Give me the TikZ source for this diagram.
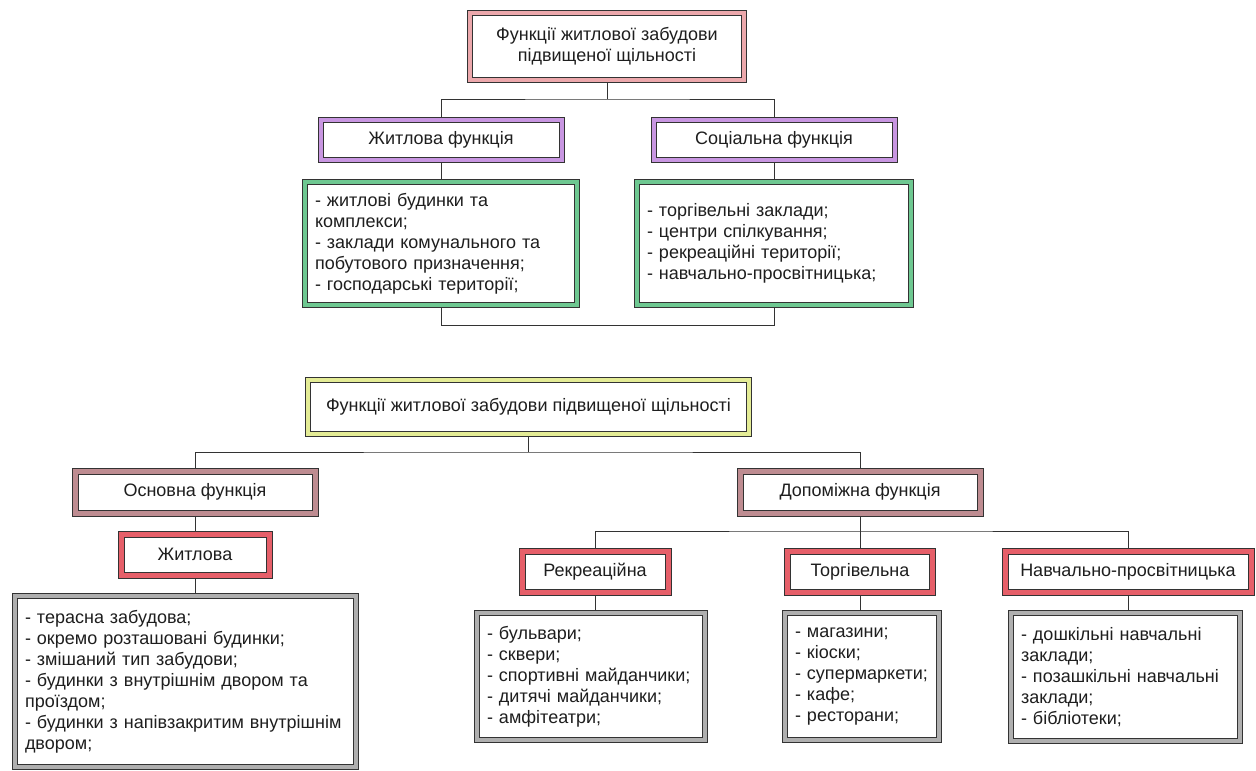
\documentclass[tikz,border=0pt]{standalone}
\usepackage{fontspec}
\setmainfont{Liberation Sans}
\usetikzlibrary{backgrounds}
\definecolor{ln}{HTML}{333333}
\definecolor{txt}{HTML}{1E1E1E}
\definecolor{pinkb}{RGB}{236,168,172}
\definecolor{purpb}{RGB}{200,150,225}
\definecolor{greenb}{RGB}{110,200,145}
\definecolor{yellb}{RGB}{228,236,150}
\definecolor{roseb}{RGB}{190,140,145}
\definecolor{redb}{RGB}{230,95,105}
\definecolor{grayb}{RGB}{175,175,175}
\newcommand{\fs}{\fontsize{18}{21}\selectfont}
\tikzset{
  dbox/.style={draw=ln, line width=1pt, double distance=4pt, fill=white,
    inner sep=0pt, align=center, text=txt, font=\fs},
  pinkbox/.style={dbox, double=pinkb},
  purpbox/.style={dbox, double=purpb},
  yellbox/.style={dbox, double=yellb},
  rosebox/.style={dbox, double=roseb, double distance=5pt},
  redbox/.style={dbox, double=redb, double distance=5pt},
  greenlist/.style={dbox, double=greenb, align=left, inner xsep=10pt},
  graylist/.style={dbox, double=grayb, align=left, inner xsep=10pt},
  conn/.style={draw=ln, line width=1pt}
}
\begin{document}
\begin{tikzpicture}[x=1pt,y=-1pt]
\useasboundingbox (0,0) rectangle (1256,771);
% ---------- upper diagram ----------
\node[pinkbox, minimum width=274pt, minimum height=67pt] (t0) at (607,46.5)
  {Функції житлової забудови\\підвищеної щільності};
\node[purpbox, minimum width=241pt, minimum height=40pt] (t1) at (441,140) {Житлова функція};
\node[purpbox, minimum width=241pt, minimum height=40pt] (t2) at (774,140) {Соціальна функція};
\node[greenlist, text width=252pt, minimum height=123pt] (t3) at (441,243.5)
  {- житлові будинки та\\комплекси;\\- заклади комунального та\\побутового призначення;\\- господарські території;};
\node[greenlist, text width=254pt, minimum height=123pt] (t4) at (774,243.5)
  {- торгівельні заклади;\\- центри спілкування;\\- рекреаційні території;\\- навчально-просвітницька;};
\coordinate (j0) at (607,99);
\coordinate (j3) at (441,325);
% ---------- lower diagram ----------
\node[yellbox, minimum width=441pt, minimum height=54pt] (b0) at (528.5,407)
  {Функції житлової забудови підвищеної щільності};
\node[rosebox, minimum width=240pt, minimum height=42pt] (b1) at (195,492) {Основна функція};
\node[rosebox, minimum width=240pt, minimum height=42pt] (b2) at (860,492) {Допоміжна функція};
\node[redbox, minimum width=148pt, minimum height=41pt] (b3) at (195,554.5) {Житлова};
\node[graylist, text width=321pt, minimum height=171pt] (b4) at (185.5,681.5)
  {- терасна забудова;\\- окремо розташовані будинки;\\- змішаний тип забудови;\\- будинки з внутрішнім двором та\\проїздом;\\- будинки з напівзакритим внутрішнім\\двором;};
\node[redbox, minimum width=146pt, minimum height=41pt] (b5) at (595,571.5) {Рекреаційна};
\node[redbox, minimum width=145pt, minimum height=41pt] (b6) at (860,571.5) {Торгівельна};
\node[redbox, minimum width=246pt, minimum height=41pt] (b7) at (1128,571.5) {Навчально-просвітницька};
\node[graylist, text width=208pt, minimum height=127pt] (b8) at (591,676.5)
  {- бульвари;\\- сквери;\\- спортивні майданчики;\\- дитячі майданчики;\\- амфітеатри;};
\node[graylist, text width=134pt, minimum height=127pt] (b9) at (862,676.5)
  {- магазини;\\- кіоски;\\- супермаркети;\\- кафе;\\- ресторани;};
\node[graylist, text width=209pt, minimum height=128pt] (b10) at (1125.5,677)
  {- дошкільні навчальні\\заклади;\\- позашкільні навчальні\\заклади;\\- бібліотеки;};
\coordinate (j1) at (528.5,452);
\coordinate (j2) at (860,531);
% ---------- connectors ----------
\begin{scope}[on background layer]
\draw[conn] (t0.south) -- (j0);
\draw[conn] (t1.north) |- (j0) -| (t2.north);
\draw[conn] (t1.south) -- (t3.north);
\draw[conn] (t2.south) -- (t4.north);
\draw[conn] (t3.south) -- (j3) -| (t4.south);
\draw[conn] (b0.south) -- (j1);
\draw[conn] (b1.north) |- (j1) -| (b2.north);
\draw[conn] (b1.south) -- (b3.north);
\draw[conn] (b3.south) -- (b3.south |- b4.north);
\draw[conn] (b2.south) -- (j2);
\draw[conn] (b5.north) |- (j2) -| (b7.north);
\draw[conn] (b6.north) -- (j2);
\draw[conn] (b5.south) -- (b5.south |- b8.north);
\draw[conn] (b6.south) -- (b6.south |- b9.north);
\draw[conn] (b7.south) -- (b7.south |- b10.north);
\end{scope}
\end{tikzpicture}
\end{document}
